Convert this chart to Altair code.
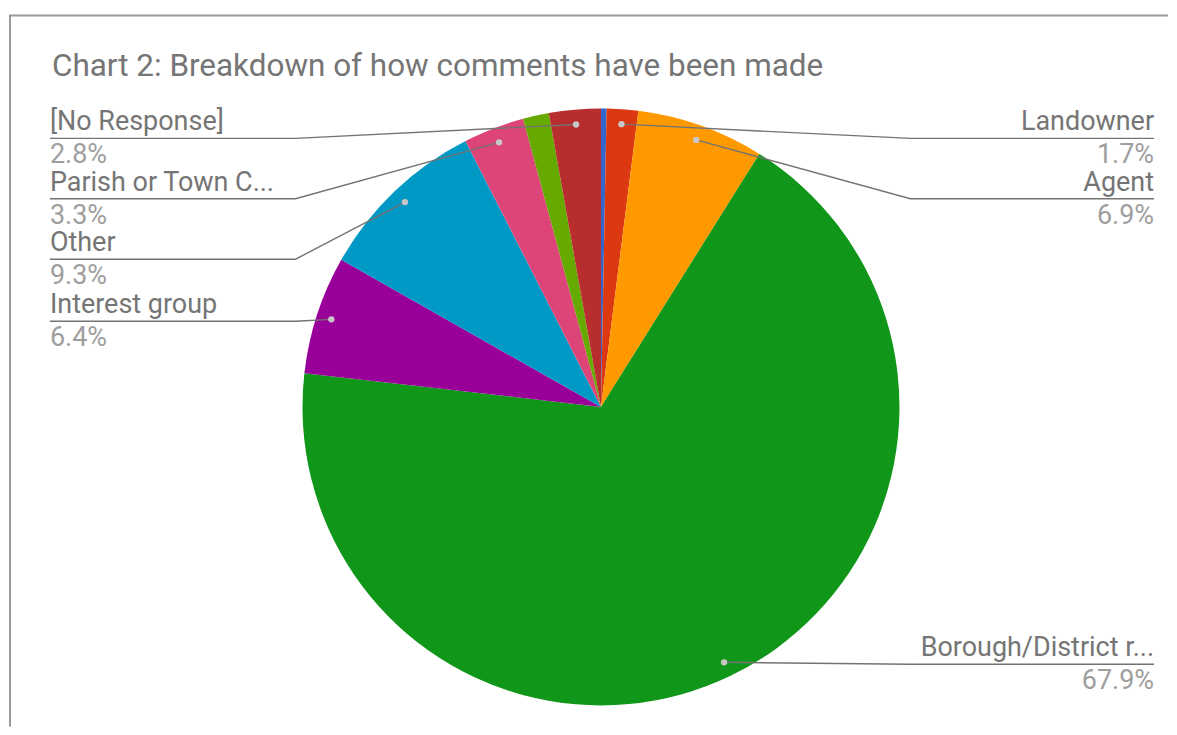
import math
import altair as alt
import pandas as pd

# ---------------- data ----------------
title_text = "Chart 2: Breakdown of how comments have been made"
categories = ["Unlabelled A", "Landowner", "Agent", "Borough/District r...",
              "Interest group", "Other", "Parish or Town C...", "Unlabelled B",
              "[No Response]"]
values = [0.3, 1.7, 6.9, 67.9, 6.4, 9.3, 3.3, 1.4, 2.8]
show_label = [False, True, True, True, True, True, True, False, True]
colors = ["#3366cc", "#dc3912", "#ff9900", "#109618", "#990099",
          "#0099c6", "#dd4477", "#66aa00", "#b82e2e"]

# ---------------- layout ----------------
W, H = 1161, 719          # svg size (page offset 8px)
OFF = 8
CX, CY = 601, 407         # pie centre (page px)
R = 299
DOT_R = 284
TOP_ROW = 138
STEP = 60.5
LEFT_END, LEFT_ELBOW = 49, 295
RIGHT_END, RIGHT_ELBOW = 1155, 911
FS = 27

total = sum(values)
pie_df = pd.DataFrame({"name": categories, "value": values, "idx": range(len(values))})

rows = []
cum = 0.0
for i, (n, v, s) in enumerate(zip(categories, values, show_label)):
    mid = (cum + v / 2) / total * 2 * math.pi
    cum += v
    if not s:
        continue
    dx = CX + DOT_R * math.sin(mid)
    dy = CY - DOT_R * math.cos(mid)
    side = "R" if mid <= math.pi else "L"
    rows.append(dict(name=n, value=v, mid=mid, dx=dx, dy=dy, side=side))

line_rows, text_rows, dot_rows = [], [], []
for side in ["L", "R"]:
    grp = [r for r in rows if r["side"] == side]
    if side == "L":
        grp.sort(key=lambda r: -r["mid"])
        elbow, end = LEFT_ELBOW, LEFT_END
    else:
        grp.sort(key=lambda r: r["mid"])
        elbow, end = RIGHT_ELBOW, RIGHT_END
    prev = TOP_ROW - STEP
    for r in grp:
        ly = max(r["dy"] + 2, prev + STEP, TOP_ROW)
        prev = ly
        line_rows += [
            dict(key=r["name"], seq=0, x=r["dx"], y=r["dy"]),
            dict(key=r["name"], seq=1, x=elbow, y=ly),
            dict(key=r["name"], seq=2, x=end, y=ly),
        ]
        dot_rows.append(dict(x=r["dx"], y=r["dy"]))
        text_rows.append(dict(x=end, y=ly - 8, text=r["name"], side=side, kind="name"))
        text_rows.append(dict(x=end, y=ly + 25, text=f"{r['value']:.1f}%", side=side, kind="pct"))

line_df = pd.DataFrame(line_rows)
dot_df = pd.DataFrame(dot_rows)
text_df = pd.DataFrame(text_rows)
title_df = pd.DataFrame({"x": [51], "y": [75], "text": [title_text]})

xs = alt.Scale(domain=[OFF, OFF + W], range=[0, W], nice=False, zero=False)
ys = alt.Scale(domain=[OFF, OFF + H], range=[0, H], nice=False, zero=False)
X = alt.X("x:Q", scale=xs, axis=None)
Y = alt.Y("y:Q", scale=ys, axis=None)

pie = alt.Chart(pie_df).mark_arc(outerRadius=R).encode(
    theta=alt.Theta("value:Q", stack=True),
    order=alt.Order("idx:Q"),
    color=alt.Color("name:N", scale=alt.Scale(domain=categories, range=colors), legend=None),
    x=alt.value(CX - OFF),
    y=alt.value(CY - OFF),
)

lines = alt.Chart(line_df).mark_line(color="#737373", strokeWidth=1.4).encode(
    x=X, y=Y, detail="key:N", order="seq:Q"
)
dots = alt.Chart(dot_df).mark_circle(size=40, color="#c8c8c8", opacity=1).encode(x=X, y=Y)

text_layers = []
for side, align in [("L", "left"), ("R", "right")]:
    for kind, col in [("name", "#757575"), ("pct", "#9e9e9e")]:
        text_layers.append(
            alt.Chart(text_df)
            .transform_filter((alt.datum.side == side) & (alt.datum.kind == kind))
            .mark_text(align=align, baseline="alphabetic", font="Roboto", fontSize=FS, color=col)
            .encode(x=X, y=Y, text="text:N")
        )

title = alt.Chart(title_df).mark_text(
    align="left", baseline="alphabetic", font="Roboto", fontSize=31.5, color="#757575"
).encode(x=X, y=Y, text="text:N")

border_top = alt.Chart(title_df).mark_rule(color="#9a9a9a", strokeWidth=2).encode(
    x=alt.value(0), x2=alt.value(W), y=alt.value(15 - OFF)
)
border_left = alt.Chart(title_df).mark_rule(color="#9a9a9a", strokeWidth=2).encode(
    x=alt.value(1), y=alt.value(15 - OFF), y2=alt.value(H)
)

chart = alt.layer(border_top, border_left, pie, lines, dots, *text_layers, title).properties(
    width=W, height=H, padding=0, background="white"
).configure_view(strokeWidth=0)

chart.save("out.html", embed_options={"renderer": "svg", "actions": False})
